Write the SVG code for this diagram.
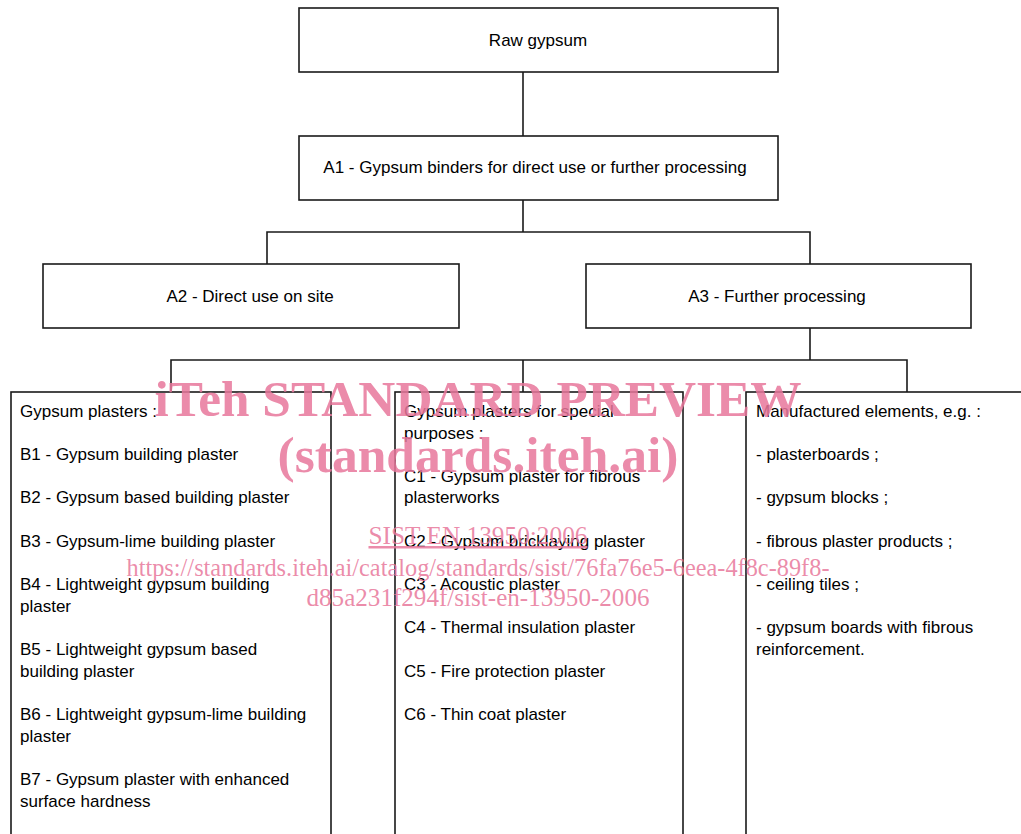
<svg xmlns="http://www.w3.org/2000/svg" width="1021" height="834" viewBox="0 0 1021 834">
<style>
.box{fill:#fff;stroke:#1a1a1a;stroke-width:1.6}
.ln{fill:none;stroke:#1a1a1a;stroke-width:1.6}
.t{font-family:"Liberation Sans",Arial,sans-serif;font-size:17px;fill:#000}
.c{text-anchor:middle}
.wm{font-family:"Liberation Serif","Times New Roman",serif;fill:#e8779b;fill-opacity:0.85;text-anchor:middle}
</style>
<rect width="1021" height="834" fill="#fff"/>
<g id="connectors">
<path class="ln" d="M523,72V136"/>
<path class="ln" d="M523,200V232M267,264V232H810V264"/>
<path class="ln" d="M810,328V360M171,392V360H907V392M523,360V392"/>
</g>
<g id="raw"><rect class="box" x="299" y="8" width="479" height="64"/><text class="t c" x="538" y="46">Raw gypsum</text></g>
<g id="a1"><rect class="box" x="299" y="136" width="479" height="64"/><text class="t c" x="535" y="173">A1 - Gypsum binders for direct use or further processing</text></g>
<g id="a2"><rect class="box" x="43" y="264" width="416" height="64"/><text class="t c" x="250" y="302">A2 - Direct use on site</text></g>
<g id="a3"><rect class="box" x="586" y="264" width="385" height="64"/><text class="t c" x="777" y="302">A3 - Further processing</text></g>
<g id="b"><rect class="box" x="11" y="392" width="320" height="470"/>
<text class="t" x="20" y="417">Gypsum plasters :</text>
<text class="t" x="20" y="460">B1 - Gypsum building plaster</text>
<text class="t" x="20" y="503">B2 - Gypsum based building plaster</text>
<text class="t" x="20" y="547">B3 - Gypsum-lime building plaster</text>
<text class="t" x="20" y="590">B4 - Lightweight gypsum building</text>
<text class="t" x="20" y="612">plaster</text>
<text class="t" x="20" y="655">B5 - Lightweight gypsum based</text>
<text class="t" x="20" y="677">building plaster</text>
<text class="t" x="20" y="720">B6 - Lightweight gypsum-lime building</text>
<text class="t" x="20" y="742">plaster</text>
<text class="t" x="20" y="785">B7 - Gypsum plaster with enhanced</text>
<text class="t" x="20" y="807">surface hardness</text>
</g>
<g id="c"><rect class="box" x="395" y="392" width="288" height="470"/>
<text class="t" x="404" y="417">Gypsum plasters for special</text>
<text class="t" x="404" y="439">purposes :</text>
<text class="t" x="404" y="482">C1 - Gypsum plaster for fibrous</text>
<text class="t" x="404" y="503">plasterworks</text>
<text class="t" x="404" y="547">C2 - Gypsum bricklaying plaster</text>
<text class="t" x="404" y="590">C3 - Acoustic plaster</text>
<text class="t" x="404" y="633">C4 - Thermal insulation plaster</text>
<text class="t" x="404" y="677">C5 - Fire protection plaster</text>
<text class="t" x="404" y="720">C6 - Thin coat plaster</text>
</g>
<g id="d"><rect class="box" x="746" y="392" width="300" height="470"/>
<text class="t" x="756" y="417">Manufactured elements, e.g. :</text>
<text class="t" x="756" y="460">- plasterboards ;</text>
<text class="t" x="756" y="503">- gypsum blocks ;</text>
<text class="t" x="756" y="547">- fibrous plaster products ;</text>
<text class="t" x="756" y="590">- ceiling tiles ;</text>
<text class="t" x="756" y="633">- gypsum boards with fibrous</text>
<text class="t" x="756" y="655">reinforcement.</text>
</g>
<g id="watermark">
<text class="wm" x="478" y="416" font-size="51" font-weight="bold" textLength="647" lengthAdjust="spacingAndGlyphs">iTeh STANDARD PREVIEW</text>
<text class="wm" x="478" y="472" font-size="51" font-weight="bold" textLength="401" lengthAdjust="spacingAndGlyphs">(standards.iteh.ai)</text>
<text class="wm" x="478" y="544" font-size="25" text-decoration="underline" textLength="219" lengthAdjust="spacingAndGlyphs">SIST EN 13950:2006</text>
<text class="wm" x="478" y="576" font-size="25" textLength="703" lengthAdjust="spacingAndGlyphs">https://standards.iteh.ai/catalog/standards/sist/76fa76e5-6eea-4f8c-89f8-</text>
<text class="wm" x="478" y="606" font-size="25" textLength="343" lengthAdjust="spacingAndGlyphs">d85a231f294f/sist-en-13950-2006</text>
</g>
</svg>
